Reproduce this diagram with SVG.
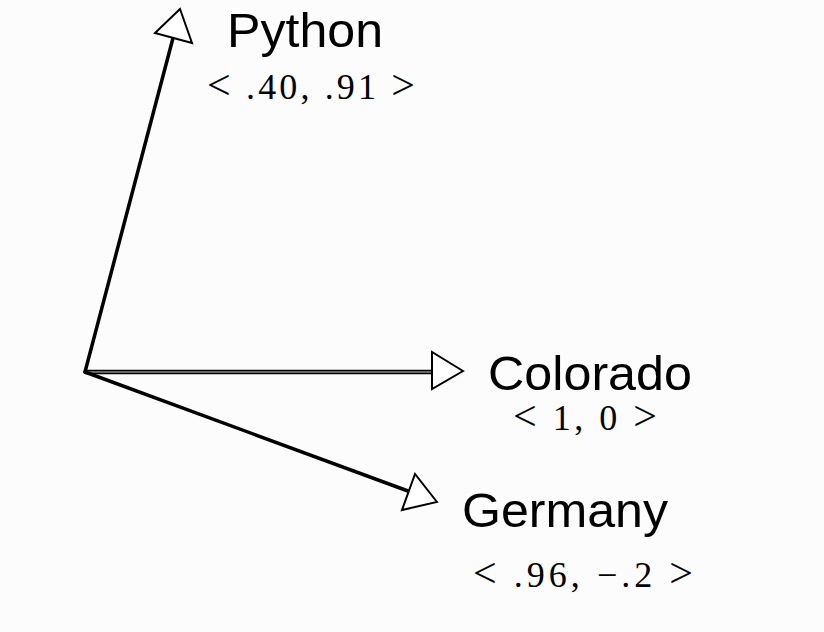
<svg xmlns="http://www.w3.org/2000/svg" width="824" height="632" viewBox="0 0 824 632">
<style>
.lbl{font-family:"Liberation Sans",Arial,sans-serif;font-size:48px;fill:#000}
.vec{font-family:"Liberation Serif","Times New Roman",serif;font-size:36px;fill:#000}
.br{font-size:42px}
.ln{stroke:#000;stroke-width:3.5;fill:none;stroke-linecap:round}
.head{fill:#fff;stroke:#000;stroke-width:2;stroke-linejoin:miter}
</style>
<rect width="824" height="632" fill="#fcfcfc"/>
<g id="connectors">
<line class="ln" x1="85" y1="372" x2="173" y2="38"/>
<polygon class="head" points="180,9 155,33 192,43"/>
<line x1="85" y1="372" x2="433" y2="372" stroke="#000" stroke-width="4.5"/>
<line x1="86" y1="372" x2="433" y2="372" stroke="#888" stroke-width="1.6"/>
<polygon class="head" points="463,371 432,352 432,389"/>
<line class="ln" x1="85" y1="372" x2="408" y2="491"/>
<polygon class="head" points="437,502 415,474 402,510"/>
</g>
<g id="python">
<text class="lbl" x="227" y="47" textLength="156" lengthAdjust="spacingAndGlyphs">Python</text>
<text class="vec" x="207" y="99" textLength="208" lengthAdjust="spacing"><tspan class="br">&lt;</tspan> .40, .91 <tspan class="br">&gt;</tspan></text>
</g>
<g id="colorado">
<text class="lbl" x="488" y="390" textLength="204" lengthAdjust="spacingAndGlyphs">Colorado</text>
<text class="vec" x="513" y="430" textLength="144" lengthAdjust="spacing"><tspan class="br">&lt;</tspan> 1, 0 <tspan class="br">&gt;</tspan></text>
</g>
<g id="germany">
<text class="lbl" x="462" y="527" textLength="206" lengthAdjust="spacingAndGlyphs">Germany</text>
<text class="vec" x="473" y="587" textLength="220" lengthAdjust="spacing"><tspan class="br">&lt;</tspan> .96, −.2 <tspan class="br">&gt;</tspan></text>
</g>
</svg>
